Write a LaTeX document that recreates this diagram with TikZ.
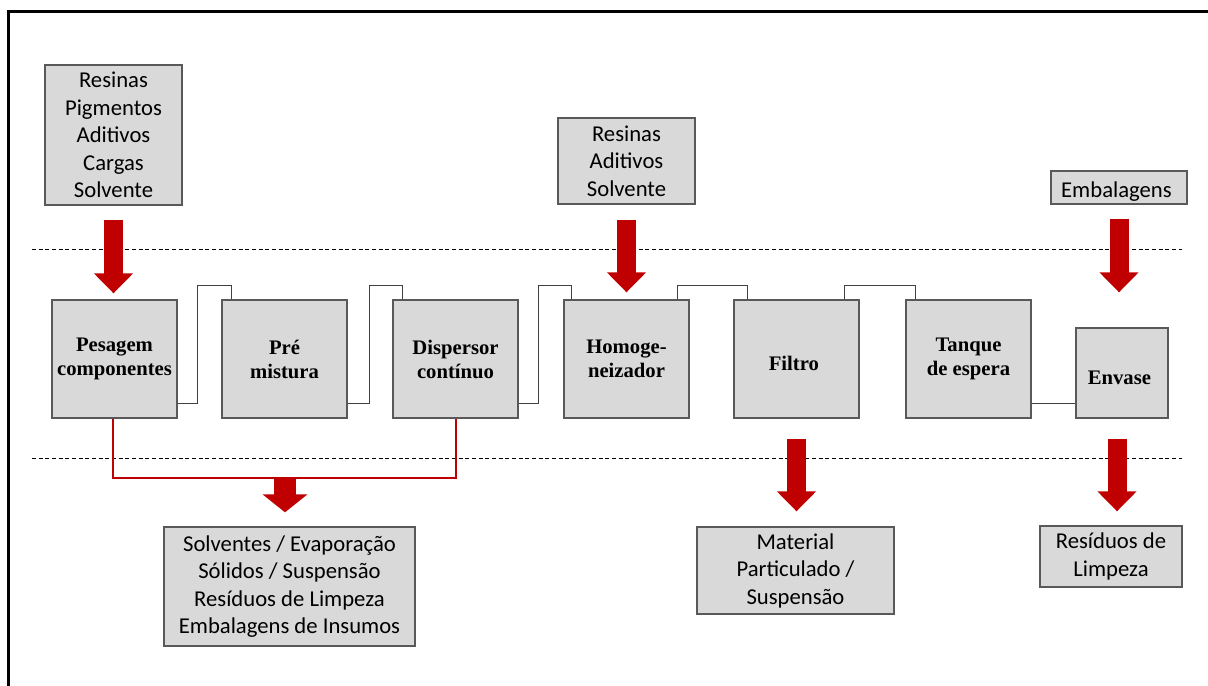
\documentclass[tikz,border=0pt]{standalone}
\usepackage{fontspec}
\setmainfont{Liberation Serif}
\newfontfamily\calfont{Carlito}
\usepackage{tikz}
\usetikzlibrary{arrows.meta,calc}
\definecolor{boxgray}{RGB}{217,217,217}
\definecolor{edgegray}{RGB}{89,89,89}
\definecolor{linkgray}{RGB}{64,64,64}
\definecolor{wastered}{RGB}{192,0,0}

\begin{document}
\begin{tikzpicture}[x=0.75pt, y=-0.75pt,
    inbox/.style={draw=edgegray, line width=1pt, fill=boxgray, inner sep=0pt, align=center,
      font=\calfont\fontsize{17}{20.6}\selectfont,
      execute at begin node={\rule{0pt}{18pt}}},
    proc/.style={draw=edgegray, line width=1pt, fill=boxgray, inner sep=0pt, align=center,
      minimum width=93.75pt, minimum height=88.5pt,
      font=\fontsize{15.5}{18}\selectfont\bfseries,
      execute at begin node={\rule{0pt}{17.5pt}}},
    link/.style={draw=linkgray, line width=0.9pt},
    waste/.style={draw=wastered, line width=1.5pt},
    sep/.style={line width=0.6pt, dash pattern=on 3pt off 2pt},
    bigarrow/.style={draw=wastered, line width=14.25pt, -{Triangle[width=28.5pt,length=15pt]}}]

    \useasboundingbox (0,0) rectangle (1208,686);
    \draw [line width=2.25pt] (8,686) -- (8,11) -- (1208,11);

    % zones
    \draw [sep] (32,249) -- (1182,249);
    \draw [sep] (32,458) -- (1182,458);

    % inputs
    \node [inbox, minimum width=102.75pt, minimum height=105pt] (in1) at (113.5,135) { Resinas\\Pigmentos\\Aditivos\\Cargas\\Solvente };
    \node [inbox, minimum width=102.75pt, minimum height=64.5pt] (in2) at (626.5,161) { Resinas\\Aditivos\\Solvente };
    \node [inbox, minimum width=102pt, minimum height=24.75pt] (emb) at (1119,187.5) { Embalagens };

    % process
    \node [proc] (pes) at (114.5,359) { Pesagem\\componentes };
    \node [proc] (pre) at (284.5,359) { Pré\\mistura };
    \node [proc] (dis) at (455.5,359) { Dispersor\\contínuo };
    \node [proc] (hom) at (626.5,359) { Homoge-\\neizador };
    \node [proc] (fil) at (796.5,359) { Filtro };
    \node [proc] (tan) at (968.5,359) { Tanque\\de espera };
    \node [proc, minimum width=69pt, minimum height=67.5pt] (env) at (1122,373) { Envase };

    % outputs
    \node [inbox, minimum width=188.25pt, minimum height=89.25pt] (out1) at (289.5,586.5) { Solventes / Evaporação\\Sólidos / Suspensão\\Resíduos de Limpeza\\Embalagens de Insumos };
    \node [inbox, minimum width=147.75pt, minimum height=65.25pt] (out2) at (795.5,570.5) { Material\\Particulado /\\Suspensão };
    \node [inbox, minimum width=106.5pt, minimum height=45.75pt] (out3) at (1111,556.5) { Resíduos de\\Limpeza };

    % links between steps
    \draw [link] ($(pes.south east)+(0,-15)$) -| ($(pre.north west)+(-24,-14)$) -| ($(pre.north west)+(10,0)$);
    \draw [link] ($(pre.south east)+(0,-15)$) -| ($(dis.north west)+(-23,-14)$) -| ($(dis.north west)+(10,0)$);
    \draw [link] ($(dis.south east)+(0,-15)$) -| ($(hom.north west)+(-25,-14)$) -| ($(hom.north west)+(8,0)$);
    \draw [link] ($(hom.north east)+(-12,0)$) |- ($(fil.north west)+(14,-14)$) -- ($(fil.north west)+(14,0)$);
    \draw [link] ($(fil.north east)+(-15,0)$) |- ($(tan.north west)+(10,-14)$) -- ($(tan.north west)+(10,0)$);
    \draw [link] ($(tan.south east)+(0,-15)$) -- ($(env.south west)+(0,-15)$);

    % waste collector
    \draw [waste] ($(pes.south)+(-1.5,0)$) -- ++(0,59) -| (dis.south);
    \coordinate (drop) at ($(pes.south)!0.5!(dis.south)+(0,59)$);
    \coordinate (envout) at ($(env.south)+(-5,0)$);

    % flows
    \draw [bigarrow, shorten <=10.5pt, shorten >=4.5pt] (in1.south) -- (in1.south |- pes.north);
    \draw [bigarrow, shorten <=11.25pt, shorten >=5.25pt] (in2.south) -- (in2.south |- hom.north);
    \draw [bigarrow, shorten <=10.5pt, shorten >=26.25pt] (emb.south) -- (emb.south |- env.north);
    \draw [bigarrow, line width=16.5pt, -{Triangle[width=33pt,length=13.5pt]}, shorten >=10.5pt] (drop) -- (drop |- out1.north);
    \draw [bigarrow, shorten <=15pt, shorten >=11.25pt] (fil.south) -- (fil.south |- out2.north);
    \draw [bigarrow, shorten <=15pt, shorten >=10.5pt] (envout) -- (envout |- out3.north);
\end{tikzpicture}
\end{document}
